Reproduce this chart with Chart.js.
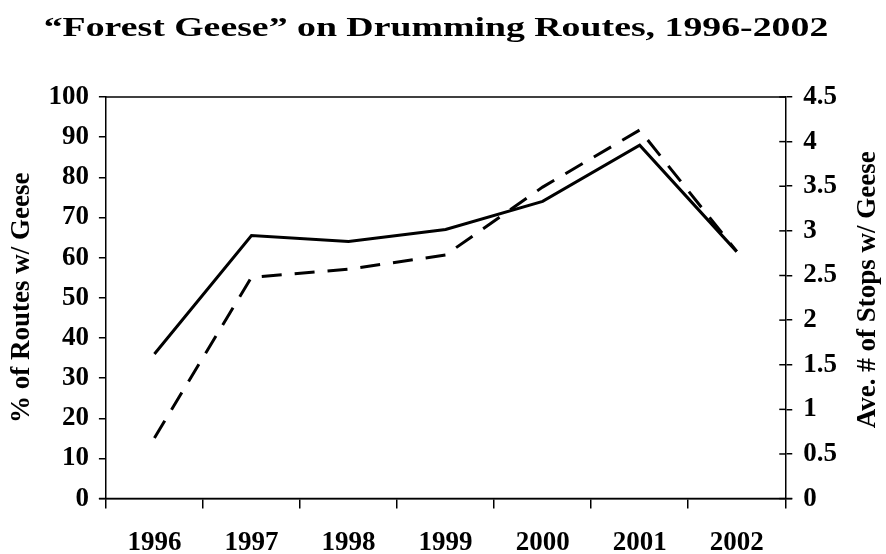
<!DOCTYPE html>
<html>
<head>
<meta charset="utf-8">
<script src="https://cdn.jsdelivr.net/npm/chart.js@4.4.1/dist/chart.umd.min.js"></script>
<style>
  html, body { margin: 0; padding: 0; background: #fff; }
  #wrap { width: 886px; height: 554px; }
</style>
</head>
<body>
<div id="wrap"><canvas id="c" width="886" height="554"></canvas></div>
<script>
const titleText = '\u201cForest Geese\u201d on Drumming Routes, 1996-2002';
const years = ['1996', '1997', '1998', '1999', '2000', '2001', '2002'];
const pctRoutes = [36, 65.5, 64, 67, 74, 88, 61.5];
const aveStops = [0.68, 2.48, 2.57, 2.73, 3.49, 4.13, 2.77];
const leftTitle = '% of Routes w/ Geese';
const rightTitle = 'Ave. # of Stops w/ Geese';

const SERIF = '"Liberation Serif", "Times New Roman", serif';

const extras = {
  id: 'extras',
  afterDraw(chart) {
    const ctx = chart.ctx;
    const a = chart.chartArea;
    const y1 = chart.scales.y1;
    ctx.save();
    ctx.strokeStyle = '#000';
    ctx.lineWidth = 1.5;
    // top frame line
    ctx.beginPath();
    ctx.moveTo(a.left, a.top);
    ctx.lineTo(a.right, a.top);
    ctx.stroke();
    // bottom axis extension
    ctx.beginPath();
    ctx.moveTo(a.left - 7, a.bottom);
    ctx.lineTo(a.right + 7, a.bottom);
    ctx.stroke();
    // inner half of right-axis ticks
    y1.ticks.forEach(t => {
      const py = y1.getPixelForValue(t.value);
      ctx.beginPath();
      ctx.moveTo(a.right - 6, py);
      ctx.lineTo(a.right, py);
      ctx.stroke();
    });
    ctx.restore();

    // right axis title, reading bottom-to-top
    ctx.save();
    ctx.fillStyle = '#000';
    ctx.font = 'bold 27px ' + SERIF;
    ctx.textAlign = 'center';
    ctx.textBaseline = 'middle';
    ctx.translate(868, (a.top + a.bottom) / 2 - 8);
    ctx.rotate(-Math.PI / 2);
    ctx.fillText(rightTitle, 0, 0);
    ctx.restore();

    // main title (horizontally widened like the reference)
    ctx.save();
    ctx.fillStyle = '#000';
    ctx.font = 'bold 28px ' + SERIF;
    ctx.textAlign = 'center';
    ctx.textBaseline = 'alphabetic';
    ctx.translate(436, 36);
    ctx.scale(1.35, 1);
    ctx.fillText(titleText, 0, 0);
    ctx.restore();
  }
};

new Chart(document.getElementById('c'), {
  type: 'line',
  data: {
    labels: years,
    datasets: [
      {
        label: leftTitle,
        data: pctRoutes,
        yAxisID: 'y',
        borderColor: '#000',
        borderWidth: 3,
        pointRadius: 0,
        tension: 0,
        fill: false
      },
      {
        label: rightTitle,
        data: aveStops,
        yAxisID: 'y1',
        borderColor: '#000',
        borderWidth: 3,
        borderDash: [20, 13],
        pointRadius: 0,
        tension: 0,
        fill: false
      }
    ]
  },
  options: {
    responsive: false,
    animation: false,
    devicePixelRatio: 1,
    layout: { padding: { left: 1, right: 38, top: 97, bottom: -23 } },
    plugins: {
      legend: { display: false },
      tooltip: { enabled: false },
      title: { display: false }
    },
    scales: {
      x: {
        type: 'category',
        offset: true,
        grid: { display: true, offset: true, drawOnChartArea: false, tickLength: 10, color: '#000', lineWidth: 1.5 },
        border: { display: true, color: '#000', width: 1.5 },
        ticks: { color: '#000', font: { family: SERIF, weight: 'bold', size: 27 }, padding: 18, maxRotation: 0 }
      },
      y: {
        position: 'left',
        min: 0,
        max: 100,
        grid: { display: true, drawOnChartArea: false, tickLength: 7, color: '#000', lineWidth: 1.5 },
        border: { display: true, color: '#000', width: 1.5 },
        ticks: { stepSize: 10, color: '#000', font: { family: SERIF, weight: 'bold', size: 27 }, padding: 10 },
        title: {
          display: true,
          text: leftTitle,
          color: '#000',
          font: { family: SERIF, weight: 'bold', size: 27 },
          padding: { top: 5, bottom: 0 }
        }
      },
      y1: {
        position: 'right',
        min: 0,
        max: 4.5,
        grid: { display: true, drawOnChartArea: false, tickLength: 7, color: '#000', lineWidth: 1.5 },
        border: { display: true, color: '#000', width: 1.5 },
        ticks: {
          stepSize: 0.5, color: '#000', font: { family: SERIF, weight: 'bold', size: 27 }, padding: 11,
          callback: (v) => String(Number(Number(v).toFixed(1)))
        }
      }
    }
  },
  plugins: [extras]
});
</script>
</body>
</html>
